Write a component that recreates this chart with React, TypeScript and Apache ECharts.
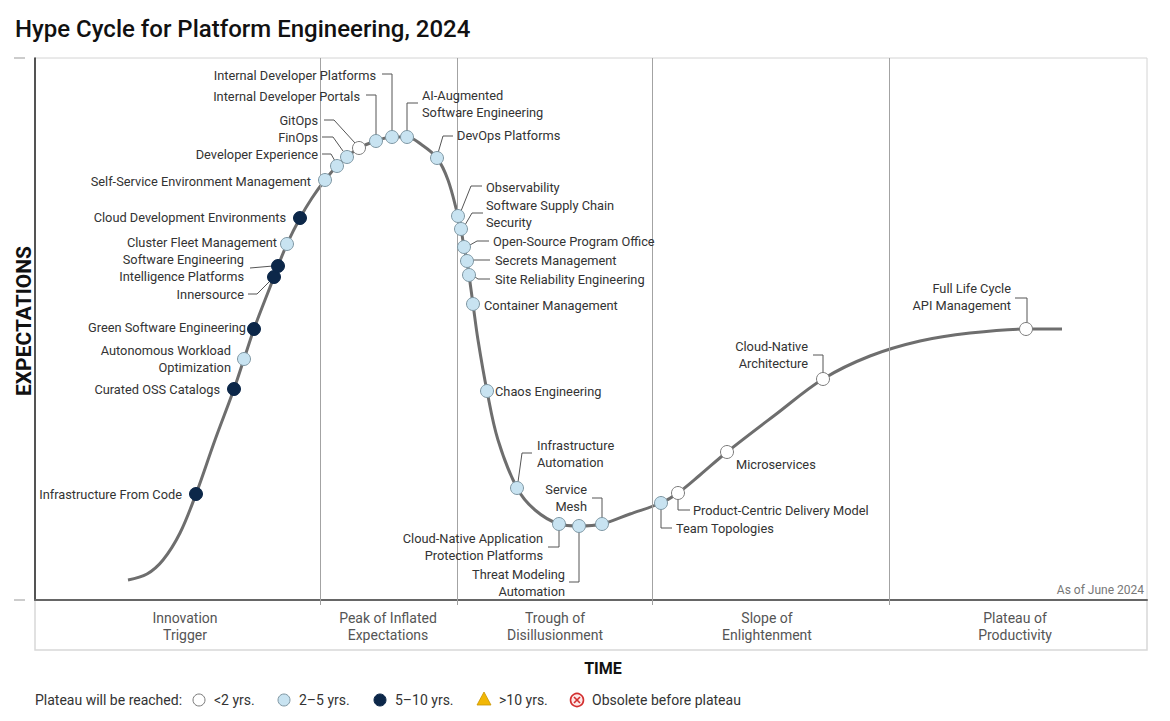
import React, { useEffect, useRef } from "react";
import * as echarts from "echarts";

// ---- Data (x = time position, y = expectation level, in chart units) ----
const curveX = [93, 112, 128, 145, 161, 180, 199, 209, 219, 230, 239, 243, 252, 265, 277, 290, 302, 312, 324, 341, 357, 372, 387, 402, 413, 423, 426, 429, 432, 434, 438, 443, 452, 463, 482, 500, 524, 544, 567, 595, 626, 643, 665, 692, 740, 788, 835, 885, 935, 991, 1027];
const curveY = [20, 26, 40, 67, 106, 160, 211, 241, 271, 300, 323, 334, 356, 382, 402, 420, 434, 443, 452, 459, 463, 463, 455, 442, 420, 384, 371, 353, 339, 325, 296, 260, 209, 160, 112, 90, 76, 74, 76, 86, 97, 107, 125, 148, 185, 221, 244, 259, 267, 271, 271];

const techNames = [
  "Infrastructure From Code",
  "Curated OSS Catalogs",
  "Autonomous Workload\nOptimization",
  "Green Software Engineering",
  "Innersource",
  "Software Engineering\nIntelligence Platforms",
  "Cluster Fleet Management",
  "Cloud Development Environments",
  "Self-Service Environment Management",
  "Developer Experience",
  "FinOps",
  "GitOps",
  "Internal Developer Portals",
  "Internal Developer Platforms",
  "AI-Augmented\nSoftware Engineering",
  "DevOps Platforms",
  "Observability",
  "Software Supply Chain\nSecurity",
  "Open-Source Program Office",
  "Secrets Management",
  "Site Reliability Engineering",
  "Container Management",
  "Chaos Engineering",
  "Infrastructure\nAutomation",
  "Cloud-Native Application\nProtection Platforms",
  "Threat Modeling\nAutomation",
  "Service\nMesh",
  "Team Topologies",
  "Product-Centric Delivery Model",
  "Microservices",
  "Cloud-Native\nArchitecture",
  "Full Life Cycle\nAPI Management",
];
const techX = [161, 199, 209, 219, 239, 243, 252, 265, 290, 302, 312, 324, 341, 357, 372, 402, 423, 426, 429, 432, 434, 438, 452, 482, 524, 544, 567, 626, 643, 692, 788, 991];
const techY = [106, 211, 241, 271, 323, 334, 356, 382, 420, 434, 443, 452, 459, 463, 463, 442, 384, 371, 353, 339, 325, 296, 209, 112, 76, 74, 76, 97, 107, 148, 221, 271];
// 0: <2 yrs, 1: 2-5 yrs, 2: 5-10 yrs
const techStatus = [2, 2, 1, 2, 2, 2, 1, 2, 1, 1, 1, 0, 1, 1, 1, 1, 1, 1, 1, 1, 1, 1, 1, 1, 1, 1, 1, 1, 0, 0, 0, 0];

const phaseNames = ["Innovation\nTrigger", "Peak of Inflated\nExpectations", "Trough of\nDisillusionment", "Slope of\nEnlightenment", "Plateau of\nProductivity"];
const phaseLabelPos = [150, 353, 520, 732, 980];
const phaseBounds = [285, 422, 617, 854];
const xMax = 1112;
const yMax = 542;

const legendLabels = ["<2 yrs.", "2\u20135 yrs.", "5\u201310 yrs.", ">10 yrs.", "Obsolete before plateau"];

// ---- Layout of annotation labels (pixel offsets relative to each marker) ----
type Lay = { dx: number; dy: number; align: "left" | "right"; leader?: number[][] };
const labelLayout: Lay[] = [
  { dx: -14, dy: 0, align: "right" },
  { dx: -14, dy: 0, align: "right" },
  { dx: -13, dy: 0, align: "right" },
  { dx: -8, dy: -2, align: "right" },
  { dx: -30, dy: 17, align: "right", leader: [[-26, 17], [-17, 17], [-4, 4]] },
  { dx: -34, dy: 2, align: "right", leader: [[-28, 2], [-5, 0]] },
  { dx: -10, dy: -2, align: "right" },
  { dx: -14, dy: -1, align: "right" },
  { dx: -14, dy: 1, align: "right" },
  { dx: -19, dy: -12, align: "right", leader: [[-15, -12], [-6, -12], [-2, -5]] },
  { dx: -29, dy: -20, align: "right", leader: [[-25, -20], [-14, -20], [-4, -6]] },
  { dx: -41, dy: -28, align: "right", leader: [[-35, -28], [-25, -28], [-4, -5]] },
  { dx: -16, dy: -45, align: "right", leader: [[-10, -46], [0, -46], [0, -6]] },
  { dx: -16, dy: -62, align: "right", leader: [[-10, -63], [0, -63], [0, -6]] },
  { dx: 15, dy: -33, align: "left", leader: [[0, -6], [0, -34], [11, -34]] },
  { dx: 20, dy: -23, align: "left", leader: [[1, -5], [6, -22], [16, -22]] },
  { dx: 28, dy: -29, align: "left", leader: [[3, -5], [13, -30], [24, -30]] },
  { dx: 25, dy: -15, align: "left", leader: [[4, -4], [11, -16], [22, -16]] },
  { dx: 29, dy: -6, align: "left", leader: [[6, -2], [13, -6], [25, -6]] },
  { dx: 28, dy: -1, align: "left", leader: [[6, -1], [23, -1]] },
  { dx: 26, dy: 4, align: "left", leader: [[6, 2], [9, 4], [21, 4]] },
  { dx: 11, dy: 1, align: "left" },
  { dx: 8, dy: 0, align: "left" },
  { dx: 20, dy: -34, align: "left", leader: [[1, -6], [5, -35], [15, -35]] },
  { dx: -16, dy: 23, align: "right", leader: [[0, 6], [0, 23], [-11, 23]] },
  { dx: -14, dy: 57, align: "right", leader: [[0, 6], [0, 56], [-10, 56]] },
  { dx: -15, dy: -26, align: "right", leader: [[-10, -26], [0, -26], [0, -6]] },
  { dx: 15, dy: 25, align: "left", leader: [[0, 6], [0, 25], [11, 25]] },
  { dx: 15, dy: 17, align: "left", leader: [[0, 6], [0, 17], [12, 17]] },
  { dx: 9, dy: 12, align: "left" },
  { dx: -15, dy: -24, align: "right", leader: [[-10, -24], [0, -24], [0, -6]] },
  { dx: -15, dy: -32, align: "right", leader: [[-11, -31], [1, -31], [1, -6]] },
];

const FONT = "Roboto, 'Noto Sans', sans-serif";
const statusFill = ["#ffffff", "#c8e3f1", "#0c2749"];
const statusStroke = ["#7a7a7a", "#7f97a3", "#0c2749"];

export default function App() {
  const ref = useRef<HTMLDivElement>(null);
  useEffect(() => {
    if (!ref.current) return;
    const chart = echarts.init(ref.current, null, { renderer: "svg" });

    const legendX = [199, 284, 380, 484, 577];
    const legendGraphics: any[] = [
      { type: "text", x: 35, y: 700, style: { text: "Plateau will be reached:", fontSize: 14, fontFamily: FONT, fill: "#333", verticalAlign: "middle" } },
    ];
    legendLabels.forEach((t, i) => {
      const cx = legendX[i];
      if (i < 3) {
        legendGraphics.push({ type: "circle", shape: { cx, cy: 700, r: 6 }, style: { fill: statusFill[i], stroke: statusStroke[i], lineWidth: 1 } });
      } else if (i === 3) {
        legendGraphics.push({ type: "polygon", shape: { points: [[cx, 692], [cx - 7, 705], [cx + 7, 705]] }, style: { fill: "#f2b705", stroke: "#c99400", lineWidth: 0.8 } });
      } else {
        legendGraphics.push({ type: "circle", shape: { cx, cy: 700, r: 6.5 }, style: { fill: "#fde8e8", stroke: "#d32f2f", lineWidth: 1.6 } });
        legendGraphics.push({ type: "line", shape: { x1: cx - 3, y1: 697, x2: cx + 3, y2: 703 }, style: { stroke: "#d32f2f", lineWidth: 1.6 } });
        legendGraphics.push({ type: "line", shape: { x1: cx + 3, y1: 697, x2: cx - 3, y2: 703 }, style: { stroke: "#d32f2f", lineWidth: 1.6 } });
      }
      legendGraphics.push({ type: "text", x: cx + 15, y: 700, style: { text: t, fontSize: 14, fontFamily: FONT, fill: "#333", verticalAlign: "middle" } });
    });

    chart.setOption({
      animation: false,
      grid: { left: 35, top: 58, width: xMax, height: yMax, show: true, borderColor: "#d4d4d4", borderWidth: 1 },
      xAxis: {
        type: "value",
        min: 0,
        max: xMax,
        axisLine: { show: true, lineStyle: { color: "#666", width: 2 } },
        axisTick: { show: true, customValues: phaseBounds, length: 5, lineStyle: { color: "#a0a0a0" } },
        splitLine: { show: false },
        axisLabel: {
          customValues: phaseLabelPos,
          formatter: (v: number) => {
            const i = phaseLabelPos.findIndex((c) => Math.abs(c - v) < 0.01);
            return i >= 0 ? phaseNames[i] : "";
          },
          margin: 9,
          color: "#555",
          fontSize: 14,
          lineHeight: 17,
          fontFamily: FONT,
        },
      },
      yAxis: {
        type: "value",
        min: 0,
        max: yMax,
        axisLine: { show: true, lineStyle: { color: "#222", width: 1.5 } },
        axisTick: { show: false },
        axisLabel: { show: false },
        splitLine: { show: false },
      },
      series: [
        {
          type: "line",
          data: curveX.map((x, i) => [x, curveY[i]]),
          smooth: 0.35,
          symbol: "none",
          silent: true,
          lineStyle: { color: "#6e6e6e", width: 3 },
          markLine: {
            silent: true,
            symbol: "none",
            label: { show: false },
            lineStyle: { color: "#a3a3a3", width: 1, type: "solid" },
            data: phaseBounds.map((v) => ({ xAxis: v })),
          },
          z: 2,
        },
        {
          type: "custom",
          clip: false,
          z: 5,
          data: techX.map((x, i) => [x, techY[i], techStatus[i]]),
          renderItem: (params: any, api: any) => {
            const i = params.dataIndex;
            const p = api.coord([api.value(0), api.value(1)]);
            const st = api.value(2);
            const lay = labelLayout[i];
            const children: any[] = [];
            if (lay.leader) {
              children.push({
                type: "polyline",
                shape: { points: lay.leader.map(([a, b]) => [p[0] + a, p[1] + b]) },
                style: { stroke: "#555", lineWidth: 1, fill: null },
              });
            }
            children.push({
              type: "circle",
              shape: { cx: p[0], cy: p[1], r: 6.5 },
              style: { fill: statusFill[st], stroke: statusStroke[st], lineWidth: 1 },
            });
            children.push({
              type: "text",
              style: {
                text: techNames[i],
                x: p[0] + lay.dx,
                y: p[1] + lay.dy,
                align: lay.align,
                verticalAlign: "middle",
                fontSize: 12.8,
                lineHeight: 17,
                fontFamily: FONT,
                fill: "#333",
              },
            });
            return { type: "group", children };
          },
        },
      ],
      graphic: [
        { type: "text", x: 15, y: 29, style: { text: "Hype Cycle for Platform Engineering, 2024", fontSize: 24, fontWeight: 500, fontFamily: FONT, fill: "#111", verticalAlign: "middle" } },
        { type: "text", x: 24, y: 321, rotation: Math.PI / 2, style: { text: "EXPECTATIONS", fontSize: 21, fontWeight: "bold", fontFamily: FONT, fill: "#111", align: "center", verticalAlign: "middle" } },
        { type: "text", x: 603, y: 668, style: { text: "TIME", fontSize: 16, fontWeight: "bold", fontFamily: FONT, fill: "#111", align: "center", verticalAlign: "middle" } },
        { type: "text", x: 1144, y: 590, style: { text: "As of June 2024", fontSize: 12, fontFamily: FONT, fill: "#777", align: "right", verticalAlign: "middle" } },
        { type: "polyline", shape: { points: [[35, 600], [35, 650], [1147, 650], [1147, 600]] }, style: { stroke: "#d8d8d8", lineWidth: 1.5, fill: null } },
        { type: "line", shape: { x1: 14, y1: 58, x2: 25, y2: 58 }, style: { stroke: "#999", lineWidth: 1 } },
        { type: "line", shape: { x1: 14, y1: 600, x2: 25, y2: 600 }, style: { stroke: "#999", lineWidth: 1 } },
        ...legendGraphics,
      ],
    });
    return () => chart.dispose();
  }, []);
  return <div ref={ref} style={{ position: "absolute", left: 0, top: 0, width: 1170, height: 721 }} />;
}
